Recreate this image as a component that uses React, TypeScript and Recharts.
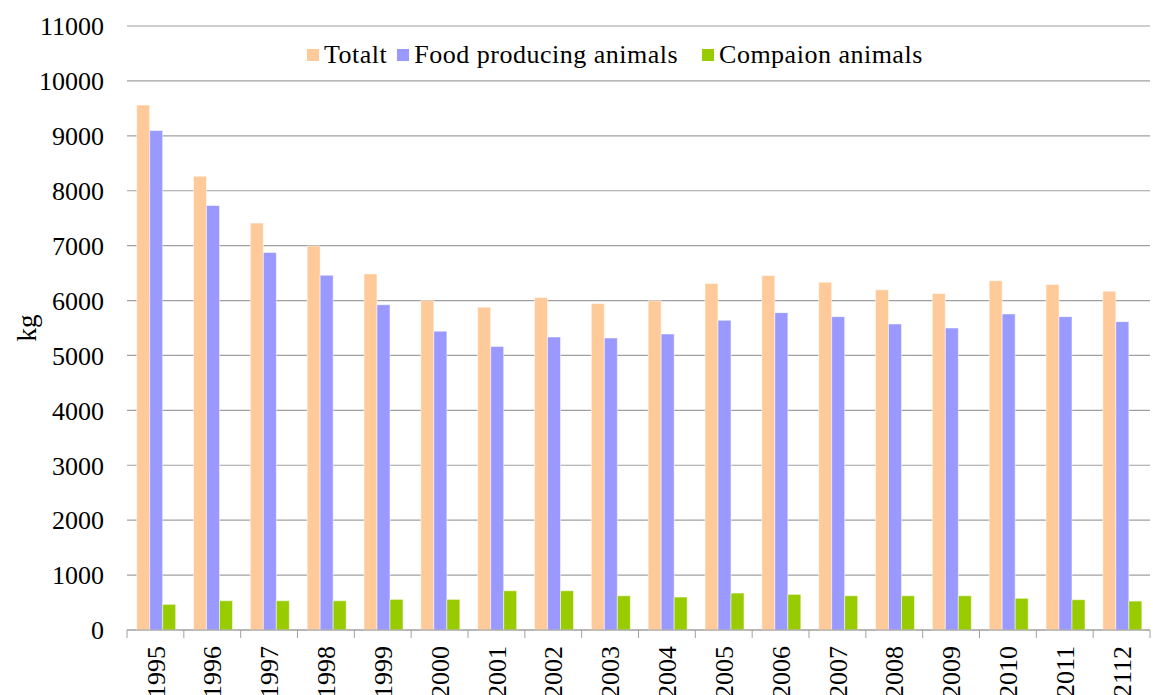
import React from 'react';
import { BarChart, Bar, XAxis, YAxis, CartesianGrid, Legend } from 'recharts';

// yearly sales, kg
const years = ['1995', '1996', '1997', '1998', '1999', '2000', '2001', '2002', '2003', '2004', '2005', '2006', '2007', '2008', '2009', '2010', '2011', '2112'];
const totalt = [9560, 8265, 7410, 6995, 6485, 5998, 5880, 6055, 5945, 5995, 6310, 6455, 6335, 6195, 6128, 6360, 6293, 6170];
const foodProducing = [9095, 7730, 6875, 6460, 5925, 5443, 5165, 5336, 5318, 5391, 5640, 5780, 5707, 5574, 5500, 5756, 5707, 5616];
const companion = [467, 533, 533, 533, 558, 558, 715, 715, 624, 600, 673, 649, 624, 624, 624, 576, 552, 527];
const yTicks = [0, 1000, 2000, 3000, 4000, 5000, 6000, 7000, 8000, 9000, 10000, 11000];

const series = [
  { key: 'totalt', name: 'Totalt', color: '#ffca99' },
  { key: 'food', name: 'Food producing animals', color: '#9999ff' },
  { key: 'companion', name: 'Compaion animals', color: '#99cc00' },
];

const data = years.map((year, i) => ({
  year,
  totalt: totalt[i],
  food: foodProducing[i],
  companion: companion[i],
}));

const FONT = 'Liberation Serif';
const AXIS_GRAY = '#a0a0a0';

const YearTick = (props: any) => {
  const { x, y, payload, index, width } = props;
  const half = payload?.offset || width / years.length / 2;
  const isLast = index === years.length - 1;
  return (
    <g>
      <line x1={x - half} x2={x - half} y1={y - 8} y2={y} stroke={AXIS_GRAY} />
      {isLast && <line x1={x + half} x2={x + half} y1={y - 8} y2={y} stroke={AXIS_GRAY} />}
      <text
        transform={`translate(${x},${y + 8}) rotate(-90)`}
        textAnchor="end"
        dy="0.35em"
        fontSize={26}
        fontFamily={FONT}
        fill="#000"
      >
        {payload.value}
      </text>
    </g>
  );
};

// legend keeps the series order instead of sorting by name
const LegendRow = () => (
  <div
    style={{
      display: 'flex',
      alignItems: 'center',
      fontFamily: FONT,
      fontSize: 26,
      letterSpacing: 0.5,
      color: '#000',
      whiteSpace: 'nowrap',
    }}
  >
    {series.map((s, i) => (
      <div key={s.key} style={{ display: 'flex', alignItems: 'center', marginRight: i === 0 ? 10 : 24 }}>
        <span style={{ width: 12, height: 12, background: s.color, display: 'inline-block', marginRight: 5 }} />
        <span>{s.name}</span>
      </div>
    ))}
  </div>
);

export default function App() {
  return (
    <div style={{ position: 'absolute', left: 0, top: 0, background: '#fff', fontFamily: FONT }}>
      <BarChart
        width={1153}
        height={695}
        data={data}
        margin={{ top: 26, right: 3, left: 0, bottom: 0 }}
        barCategoryGap="17%"
        barGap={0}
      >
        <CartesianGrid vertical={false} stroke={AXIS_GRAY} strokeWidth={1.2} />
        <XAxis
          dataKey="year"
          height={65}
          interval={0}
          axisLine={{ stroke: AXIS_GRAY, strokeWidth: 1.2 }}
          tickLine={false}
          tickSize={8}
          tickMargin={0}
          tick={<YearTick />}
        />
        <YAxis
          width={127}
          domain={[0, 11000]}
          ticks={yTicks}
          interval={0}
          axisLine={false}
          tickLine={false}
          tickSize={6}
          tickMargin={17}
          tick={{ fontSize: 26, fontFamily: FONT, fill: '#000' }}
          label={{
            value: 'kg',
            angle: -90,
            position: 'insideLeft',
            offset: 26,
            style: { fontSize: 27, fontFamily: FONT, fill: '#000', textAnchor: 'middle' },
          }}
        />
        <Legend
          layout="horizontal"
          verticalAlign="middle"
          align="center"
          content={<LegendRow />}
          wrapperStyle={{ top: 40, left: 307, width: 'auto' }}
        />
        {series.map((s) => (
          <Bar
            key={s.key}
            dataKey={s.key}
            name={s.name}
            fill={s.color}
            stroke="#ffffff"
            strokeOpacity={0.5}
            isAnimationActive={false}
          />
        ))}
      </BarChart>
    </div>
  );
}
